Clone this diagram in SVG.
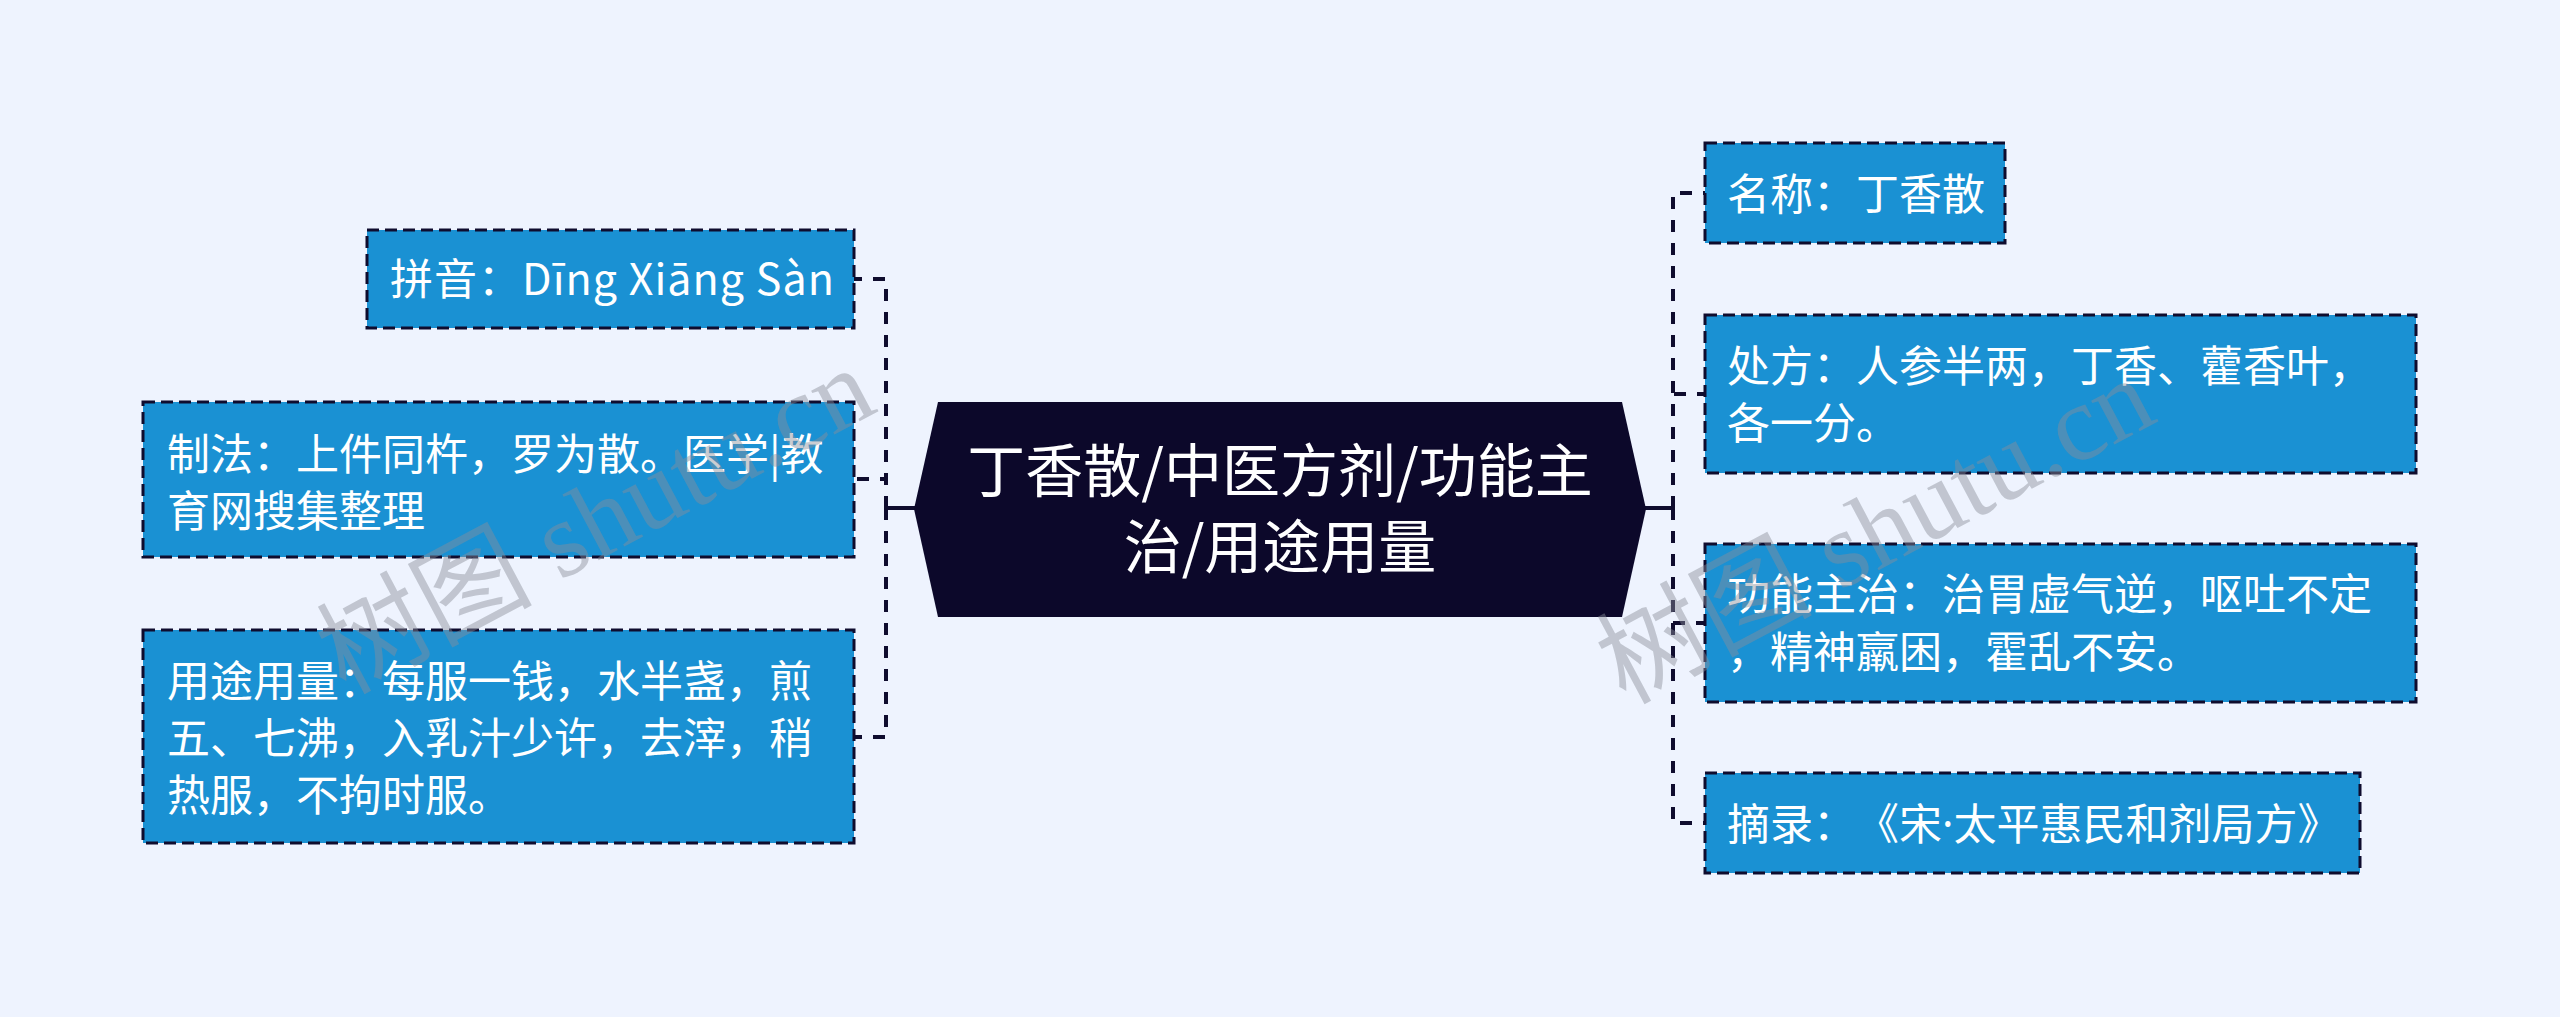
<svg xmlns="http://www.w3.org/2000/svg" width="2560" height="1017" viewBox="0 0 2560 1017">
<style>
text{text-spacing-trim:space-all}
.box{fill:#1a91d3;stroke:#0f0c2e;stroke-width:3;stroke-dasharray:12 6}
.hub{fill:#0c082a}
.t{font-family:"Noto Sans CJK SC","Noto Sans",sans-serif;font-size:43px;fill:#ffffff}
.tc{font-family:"Noto Sans CJK SC","Noto Sans",sans-serif;font-size:58px;fill:#ffffff;text-anchor:middle}
.lat{font-family:"Noto Sans",sans-serif}
.dash{fill:none;stroke:#0f0c2e;stroke-width:4;stroke-dasharray:12 11}
.solid{fill:none;stroke:#0f0c2e;stroke-width:4}
.wm{font-family:"Liberation Serif","Noto Sans CJK SC",serif;font-size:108px;fill:#8a8f99;fill-opacity:0.45}
</style>
<rect width="2560" height="1017" fill="#eef3fe"/>
<g id="connectors">
<path class="dash" d="M886 508 V279 H854"/>
<path class="dash" d="M886 508 V479 H854"/>
<path class="dash" d="M886 508 V737 H854"/>
<path class="dash" d="M1673 508 V193 H1705"/>
<path class="dash" d="M1673 508 V394 H1705"/>
<path class="dash" d="M1673 508 V623 H1705"/>
<path class="dash" d="M1673 508 V823 H1705"/>
<path class="solid" d="M915 508 H886 M886 497 V519"/>
<path class="solid" d="M1645 508 H1673 M1673 497 V519"/>
</g>
<g id="center">
<polygon class="hub" points="914,509 938,402 1622,402 1646,509 1622,617 938,617"/>
<text class="tc" x="1280" y="492">丁香散/中医方剂/功能主</text>
<text class="tc" x="1280" y="568">治/用途用量</text>
</g>
<g id="pinyin">
<rect class="box" x="367" y="230" width="487" height="98"/>
<text class="t" x="390" y="295" textLength="444" lengthAdjust="spacing">拼音：Dīng Xiāng Sàn</text>
</g>
<g id="zhifa">
<rect class="box" x="143" y="402" width="711" height="155"/>
<text class="t" x="167" y="470">制法：上件同杵，罗为散。医学|教</text>
<text class="t" x="167" y="527">育网搜集整理</text>
</g>
<g id="yongtu">
<rect class="box" x="143" y="630" width="711" height="213"/>
<text class="t" x="167" y="697">用途用量：每服一钱，水半盏，煎</text>
<text class="t" x="167" y="754">五、七沸，入乳汁少许，去滓，稍</text>
<text class="t" x="167" y="811">热服，不拘时服。</text>
</g>
<g id="mingcheng">
<rect class="box" x="1705" y="143" width="300" height="100"/>
<text class="t" x="1727" y="210">名称：丁香散</text>
</g>
<g id="chufang">
<rect class="box" x="1705" y="315" width="711" height="158"/>
<text class="t" x="1727" y="382">处方：人参半两，丁香、藿香叶，</text>
<text class="t" x="1727" y="439">各一分。</text>
</g>
<g id="gongneng">
<rect class="box" x="1705" y="544" width="711" height="158"/>
<text class="t" x="1727" y="610">功能主治：治胃虚气逆，呕吐不定</text>
<text class="t" x="1727" y="668">，精神羸困，霍乱不安。</text>
</g>
<g id="zhailu">
<rect class="box" x="1705" y="773" width="655" height="100"/>
<text class="t" x="1727" y="840">摘录：《宋<tspan class="lat">·</tspan>太平惠民和剂局方》</text>
</g>
<text class="wm" transform="translate(345,695) rotate(-28)">树图 shutu.cn</text>
<text class="wm" transform="translate(1625,705) rotate(-28)">树图 shutu.cn</text>
</svg>
